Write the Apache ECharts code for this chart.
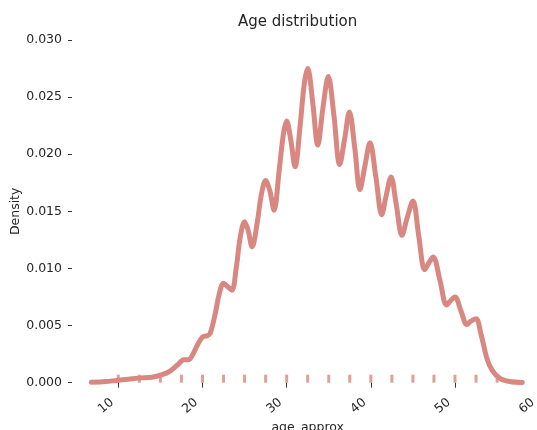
<!DOCTYPE html>
<html>
<head>
<meta charset="utf-8">
<script src="https://cdn.jsdelivr.net/npm/echarts@6/dist/echarts.min.js"></script>
<style>
html,body{margin:0;padding:0;background:#fff;}
#chart{width:537px;height:430px;}
</style>
</head>
<body>
<div id="chart"></div>
<script>
// KDE curve (age -> density)
const kdeAge = [6.8, 8.5, 9.8, 11.2, 12.4, 14.0, 15.2, 16.1, 17.1, 17.8, 18.3, 18.8, 19.4, 20.0, 20.5, 20.9,
  21.5, 22.0, 22.5, 23.0, 23.5, 24.0, 24.5, 25.0, 25.4, 25.9, 26.5, 27.0, 27.5, 28.0, 28.5, 29.1, 29.6, 30.0,
  30.5, 31.0, 31.6, 32.1, 32.5, 33.1, 33.7, 34.3, 34.95, 35.6, 36.3, 36.9, 37.45, 38.1, 38.7, 39.3, 39.9,
  40.6, 41.3, 41.8, 42.4, 43.0, 43.7, 44.3, 45.0, 45.7, 46.4, 46.9, 47.4, 48.2, 49.0, 49.5, 50.0, 50.7,
  51.4, 51.9, 52.5, 53.1, 53.8, 54.4, 55.3, 56.5, 58.0];
const kdeDensity = [0.00003, 0.0001, 0.0002, 0.0003, 0.0004, 0.00047, 0.0007, 0.0010, 0.0016, 0.0020, 0.0020,
  0.0024, 0.0033, 0.0040, 0.0041, 0.0043, 0.0060, 0.0078, 0.0087, 0.0084, 0.0081, 0.0100, 0.0128, 0.0141,
  0.0134, 0.0119, 0.0140, 0.0165, 0.0177, 0.0168, 0.0151, 0.0185, 0.0217, 0.0229, 0.0212, 0.0189, 0.0225,
  0.0262, 0.0275, 0.0245, 0.0208, 0.0240, 0.0268, 0.0235, 0.0191, 0.0214, 0.0237, 0.0205, 0.0169, 0.0190,
  0.0210, 0.0180, 0.0147, 0.0163, 0.0180, 0.0157, 0.0129, 0.0144, 0.0159, 0.0128, 0.0099, 0.0105, 0.0110,
  0.0090, 0.0068, 0.0072, 0.0075, 0.0063, 0.0051, 0.0054, 0.0056, 0.0042, 0.0021, 0.0011, 0.0004, 0.0001,
  0.00002];
// rug marks (observed ages)
const rugAges = [10, 12.5, 15, 17.5, 20, 22.5, 25, 27.5, 30, 32.5, 35, 37.5, 40, 42.5, 45, 47.5, 50, 52.5, 55];
// tick labels
const xTicks = [10, 20, 30, 40, 50, 60];
const yTicks = [0, 0.005, 0.010, 0.015, 0.020, 0.025, 0.030];

const COLOR = '#d98781';
const TEXT = '#262626';
const FONT = 'DejaVu Sans';

const chart = echarts.init(document.getElementById('chart'), null, {renderer: 'canvas'});
chart.setOption({
  backgroundColor: '#ffffff',
  animation: false,
  title: {
    text: 'Age distribution',
    left: 233, top: 10,
    textStyle: {fontFamily: FONT, fontSize: 15, fontWeight: 'normal', color: TEXT}
  },
  grid: {left: 72, top: 40, width: 471.4, height: 342.7, outerBoundsMode: 'none', containLabel: false},
  xAxis: {
    type: 'value', min: 4.5, max: 60.5,
    name: 'age_approx', nameLocation: 'middle', nameGap: 39, nameMoveOverlap: false,
    nameTextStyle: {fontFamily: FONT, fontSize: 12.5, color: TEXT},
    axisLine: {show: false},
    splitLine: {show: false},
    axisTick: {show: true, length: 5, customValues: xTicks, lineStyle: {color: '#333', width: 1}},
    axisLabel: {customValues: xTicks, rotate: 40, margin: 13, padding: [0, 8, 0, 0],
      fontFamily: FONT, fontSize: 12.5, color: TEXT}
  },
  yAxis: {
    type: 'value', min: 0, max: 0.030, interval: 0.005,
    name: 'Density', nameLocation: 'middle', nameGap: 50, nameMoveOverlap: false,
    nameTextStyle: {fontFamily: FONT, fontSize: 12.5, color: TEXT},
    axisLine: {show: false},
    splitLine: {show: false},
    axisTick: {show: true, length: 4, lineStyle: {color: '#333', width: 1}},
    axisLabel: {
      customValues: yTicks,
      margin: 10, fontFamily: FONT, fontSize: 12.5, color: TEXT,
      formatter: v => v.toFixed(3)
    }
  },
  series: [
    {
      type: 'line',
      data: kdeAge.map((a, i) => [a, kdeDensity[i]]),
      showSymbol: false,
      smooth: 0.35,
      lineStyle: {color: COLOR, width: 5, cap: 'round', join: 'round'},
      z: 2
    },
    {
      type: 'scatter',
      data: rugAges.map(a => [a, 0]),
      symbol: 'rect',
      symbolSize: [3, 8],
      symbolOffset: [0, -4],
      itemStyle: {color: COLOR},
      z: 3
    }
  ]
});
</script>
</body>
</html>
